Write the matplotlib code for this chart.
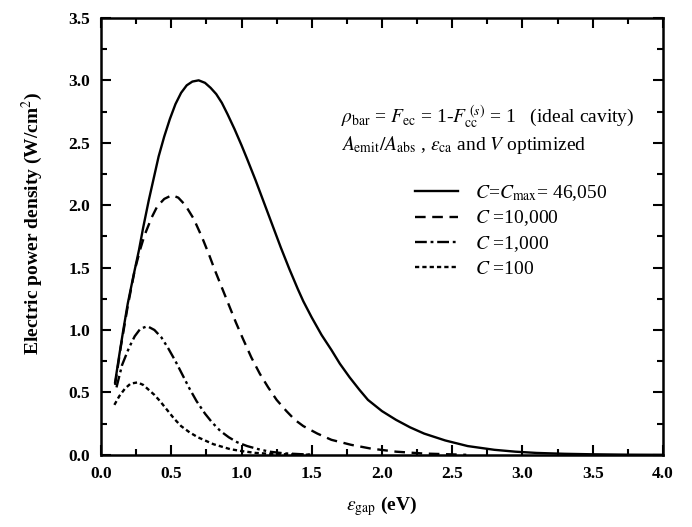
import numpy as np
import matplotlib
matplotlib.use("Agg")
from matplotlib import pyplot as plt
from matplotlib.ticker import MultipleLocator

plt.rcParams['font.family'] = ['Liberation Serif', 'DejaVu Serif']
plt.rcParams['mathtext.fontset'] = 'stix'

# values
x_max = [0.10, 0.13, 0.16, 0.19, 0.23, 0.27, 0.30, 0.34, 0.38, 0.41, 0.45, 0.49, 0.53, 0.57,
         0.61, 0.65, 0.695, 0.74, 0.78, 0.82, 0.86, 0.90, 0.95, 1.00, 1.04, 1.10, 1.16, 1.22,
         1.28, 1.34, 1.40, 1.44, 1.50, 1.57, 1.64, 1.70, 1.77, 1.84, 1.90, 2.00, 2.10, 2.20,
         2.30, 2.45, 2.61, 2.80, 2.95, 3.10, 3.30, 3.50, 3.75, 4.00]
y_max = [0.58, 0.80, 1.01, 1.21, 1.43, 1.64, 1.82, 2.04, 2.24, 2.39, 2.55, 2.69, 2.81, 2.90,
         2.96, 2.99, 3.00, 2.98, 2.94, 2.89, 2.82, 2.73, 2.61, 2.48, 2.37, 2.20, 2.02, 1.84,
         1.66, 1.49, 1.33, 1.23, 1.10, 0.96, 0.84, 0.73, 0.62, 0.52, 0.44, 0.35, 0.28, 0.22,
         0.17, 0.115, 0.07, 0.04, 0.025, 0.015, 0.008, 0.004, 0.001, 0.0]

x_10k = [0.10, 0.14, 0.19, 0.24, 0.28, 0.31, 0.36, 0.40, 0.45, 0.505, 0.55, 0.60, 0.66, 0.72,
         0.77, 0.81, 0.86, 0.91, 0.96, 1.01, 1.07, 1.13, 1.19, 1.25, 1.32, 1.38, 1.44, 1.54,
         1.64, 1.78, 1.92, 2.10, 2.30, 2.60]
y_10k = [0.56, 0.86, 1.19, 1.48, 1.65, 1.76, 1.90, 1.99, 2.05, 2.08, 2.06, 2.00, 1.89, 1.74,
         1.60, 1.48, 1.34, 1.20, 1.06, 0.93, 0.78, 0.65, 0.54, 0.44, 0.35, 0.28, 0.23, 0.17,
         0.12, 0.08, 0.05, 0.025, 0.01, 0.0]

x_1k = [0.11, 0.15, 0.20, 0.24, 0.28, 0.33, 0.38, 0.43, 0.48, 0.53, 0.58, 0.63, 0.68, 0.74,
        0.79, 0.85, 0.91, 0.97, 1.04, 1.12, 1.20, 1.30, 1.42, 1.50]
y_1k = [0.54, 0.72, 0.86, 0.95, 1.01, 1.03, 1.00, 0.94, 0.85, 0.75, 0.64, 0.53, 0.43, 0.33,
        0.26, 0.19, 0.14, 0.10, 0.07, 0.045, 0.025, 0.012, 0.005, 0.0]

x_100 = [0.095, 0.13, 0.17, 0.21, 0.26, 0.30, 0.34, 0.38, 0.42, 0.47, 0.52, 0.57, 0.63, 0.69,
         0.74, 0.80, 0.86, 0.92, 1.00, 1.10, 1.20, 1.35, 1.50]
y_100 = [0.40, 0.47, 0.53, 0.57, 0.58, 0.56, 0.52, 0.48, 0.43, 0.36, 0.29, 0.23, 0.18, 0.14,
         0.115, 0.085, 0.065, 0.045, 0.03, 0.015, 0.008, 0.003, 0.0]

labels = [r'$C$=$C_{\rm max}$= 46,050', r'$C$ =10,000', r'$C$ =1,000', r'$C$ =100']

fig = plt.figure(figsize=(6.92, 5.27), dpi=100)
ax = fig.add_axes([0.146, 0.137, 0.812, 0.829])

ax.plot(x_max, y_max, color='black', lw=1.7, ls='-', label=labels[0])
ax.plot(x_10k, y_10k, color='black', lw=1.7, ls=(0, (4.5, 2.8)), label=labels[1])
ax.plot(x_1k, y_1k, color='black', lw=1.7, ls=(0, (5, 1.6, 1.2, 1.6, 5, 1.6, 1.2, 1.6, 1.2, 1.6)), label=labels[2])
ax.plot(x_100, y_100, color='black', lw=1.7, ls=(0, (1.8, 1.3)), label=labels[3])

ax.set_xlim(0, 4.0)
ax.set_ylim(0, 3.5)
ax.xaxis.set_major_locator(MultipleLocator(0.5))
ax.xaxis.set_minor_locator(MultipleLocator(0.25))
ax.yaxis.set_major_locator(MultipleLocator(0.5))
ax.yaxis.set_minor_locator(MultipleLocator(0.25))
ax.xaxis.set_major_formatter(plt.FormatStrFormatter('%.1f'))
ax.yaxis.set_major_formatter(plt.FormatStrFormatter('%.1f'))
ax.tick_params(which='both', direction='in', top=True, right=True, width=1.5, labelsize=12.5)
ax.tick_params(which='major', length=7, pad=8)
ax.tick_params(which='minor', length=4)
for lab in ax.get_xticklabels() + ax.get_yticklabels():
    lab.set_fontweight('bold')
for s in ax.spines.values():
    s.set_linewidth(1.8)

ax.set_xlabel(r'$\varepsilon_{\rm gap}$ (eV)', fontsize=14, fontweight='bold', labelpad=9)
ax.set_ylabel(r'Electric power density (W/cm$^2$)', fontsize=14, fontweight='bold')
ax.yaxis.set_label_coords(-0.1, 0.53)

ax.text(1.71, 2.66, r'$\rho_{\rm bar}$ = $F_{\rm ec}$ = 1-$F_{\rm cc}^{\;(s)}$ = 1   (ideal cavity)',
        fontsize=14, ha='left', va='baseline')
ax.text(1.71, 2.44, r'$A_{\rm emit}/A_{\rm abs}$ , $\varepsilon_{\rm ca}$ and $V$ optimized',
        fontsize=14, ha='left', va='baseline')

ax.legend(loc='upper left', bbox_to_anchor=(0.545, 0.64), frameon=False, fontsize=14,
          handlelength=2.2, handletextpad=0.9, labelspacing=0.3, borderaxespad=0)

fig.savefig('out.png', dpi=100)
